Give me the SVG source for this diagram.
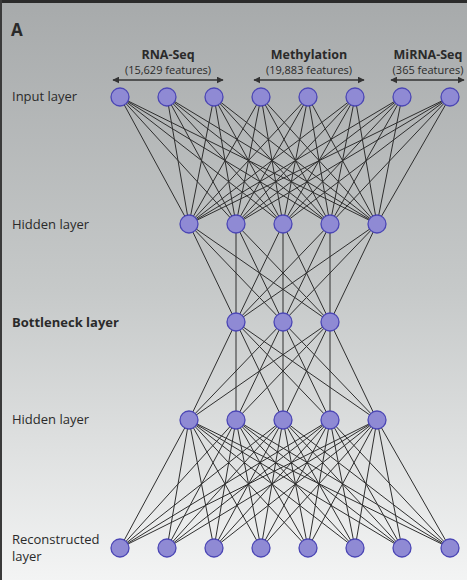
<svg xmlns="http://www.w3.org/2000/svg" width="467" height="580" viewBox="0 0 467 580">
<defs>
<linearGradient id="bg" x1="0" y1="0" x2="0" y2="1">
<stop offset="0" stop-color="#a7aaab"/>
<stop offset="0.5" stop-color="#c6c9c9"/>
<stop offset="1" stop-color="#f3f4f4"/>
</linearGradient>
<marker id="ah" viewBox="0 0 10 10" refX="9" refY="5" markerWidth="7" markerHeight="7" orient="auto-start-reverse" markerUnits="userSpaceOnUse">
<path d="M0,0 L10,5 L0,10 Z" fill="#333"/>
</marker>
</defs>
<style>
.lbl{font-family:"Open Sans","Liberation Sans",sans-serif;font-size:13px;fill:#2a2a2a}
.b{font-weight:bold}
.hd{font-family:"Open Sans","Liberation Sans",sans-serif;font-size:12.5px;font-weight:bold;fill:#2a2a2a;text-anchor:middle}
.sub{font-family:"Open Sans","Liberation Sans",sans-serif;font-size:11px;fill:#2a2a2a;text-anchor:middle}
.n{fill:#8f8ad4;stroke:#4b46b5;stroke-width:1.3}
.e line{stroke:#2e2e2e;stroke-width:1}
.arr{stroke:#333;stroke-width:1.5}
</style>
<rect x="0" y="0" width="467" height="580" fill="url(#bg)"/>
<rect x="0" y="0" width="467" height="3" fill="#2b2b2b"/>
<rect x="0" y="0" width="2" height="580" fill="#3a3a3a"/>
<text x="11" y="36" font-family="Open Sans,Liberation Sans,sans-serif" font-size="17" font-weight="bold" fill="#2a2a2a">A</text>
<text class="lbl" x="12" y="101">Input layer</text>
<text class="lbl" x="12" y="229">Hidden layer</text>
<text class="lbl b" x="12" y="327">Bottleneck layer</text>
<text class="lbl" x="12" y="424">Hidden layer</text>
<text class="lbl" x="12" y="544">Reconstructed</text>
<text class="lbl" x="12" y="561">layer</text>
<text class="hd" x="168" y="59">RNA-Seq</text>
<text class="sub" x="168" y="74">(15,629 features)</text>
<text class="hd" x="309" y="59">Methylation</text>
<text class="sub" x="309" y="74">(19,883 features)</text>
<text class="hd" x="428" y="59">MiRNA-Seq</text>
<text class="sub" x="428" y="74">(365 features)</text>
<line class="arr" x1="113" y1="80" x2="223" y2="80" marker-start="url(#ah)" marker-end="url(#ah)"/>
<line class="arr" x1="254" y1="80" x2="364" y2="80" marker-start="url(#ah)" marker-end="url(#ah)"/>
<line class="arr" x1="391" y1="80" x2="464" y2="80" marker-start="url(#ah)" marker-end="url(#ah)"/>
<g id="connectors" class="e">
<line x1="120" y1="97" x2="189" y2="224"/><line x1="120" y1="97" x2="236" y2="224"/><line x1="120" y1="97" x2="283" y2="224"/><line x1="120" y1="97" x2="330" y2="224"/><line x1="120" y1="97" x2="377" y2="224"/>
<line x1="167" y1="97" x2="189" y2="224"/><line x1="167" y1="97" x2="236" y2="224"/><line x1="167" y1="97" x2="283" y2="224"/><line x1="167" y1="97" x2="330" y2="224"/><line x1="167" y1="97" x2="377" y2="224"/>
<line x1="214" y1="97" x2="189" y2="224"/><line x1="214" y1="97" x2="236" y2="224"/><line x1="214" y1="97" x2="283" y2="224"/><line x1="214" y1="97" x2="330" y2="224"/><line x1="214" y1="97" x2="377" y2="224"/>
<line x1="261" y1="97" x2="189" y2="224"/><line x1="261" y1="97" x2="236" y2="224"/><line x1="261" y1="97" x2="283" y2="224"/><line x1="261" y1="97" x2="330" y2="224"/><line x1="261" y1="97" x2="377" y2="224"/>
<line x1="308" y1="97" x2="189" y2="224"/><line x1="308" y1="97" x2="236" y2="224"/><line x1="308" y1="97" x2="283" y2="224"/><line x1="308" y1="97" x2="330" y2="224"/><line x1="308" y1="97" x2="377" y2="224"/>
<line x1="355" y1="97" x2="189" y2="224"/><line x1="355" y1="97" x2="236" y2="224"/><line x1="355" y1="97" x2="283" y2="224"/><line x1="355" y1="97" x2="330" y2="224"/><line x1="355" y1="97" x2="377" y2="224"/>
<line x1="402" y1="97" x2="189" y2="224"/><line x1="402" y1="97" x2="236" y2="224"/><line x1="402" y1="97" x2="283" y2="224"/><line x1="402" y1="97" x2="330" y2="224"/><line x1="402" y1="97" x2="377" y2="224"/>
<line x1="450" y1="97" x2="189" y2="224"/><line x1="450" y1="97" x2="236" y2="224"/><line x1="450" y1="97" x2="283" y2="224"/><line x1="450" y1="97" x2="330" y2="224"/><line x1="450" y1="97" x2="377" y2="224"/>
<line x1="189" y1="224" x2="236" y2="322"/><line x1="189" y1="224" x2="283" y2="322"/><line x1="189" y1="224" x2="330" y2="322"/>
<line x1="236" y1="224" x2="236" y2="322"/><line x1="236" y1="224" x2="283" y2="322"/><line x1="236" y1="224" x2="330" y2="322"/>
<line x1="283" y1="224" x2="236" y2="322"/><line x1="283" y1="224" x2="283" y2="322"/><line x1="283" y1="224" x2="330" y2="322"/>
<line x1="330" y1="224" x2="236" y2="322"/><line x1="330" y1="224" x2="283" y2="322"/><line x1="330" y1="224" x2="330" y2="322"/>
<line x1="377" y1="224" x2="236" y2="322"/><line x1="377" y1="224" x2="283" y2="322"/><line x1="377" y1="224" x2="330" y2="322"/>
<line x1="189" y1="420" x2="236" y2="322"/><line x1="189" y1="420" x2="283" y2="322"/><line x1="189" y1="420" x2="330" y2="322"/>
<line x1="236" y1="420" x2="236" y2="322"/><line x1="236" y1="420" x2="283" y2="322"/><line x1="236" y1="420" x2="330" y2="322"/>
<line x1="283" y1="420" x2="236" y2="322"/><line x1="283" y1="420" x2="283" y2="322"/><line x1="283" y1="420" x2="330" y2="322"/>
<line x1="330" y1="420" x2="236" y2="322"/><line x1="330" y1="420" x2="283" y2="322"/><line x1="330" y1="420" x2="330" y2="322"/>
<line x1="377" y1="420" x2="236" y2="322"/><line x1="377" y1="420" x2="283" y2="322"/><line x1="377" y1="420" x2="330" y2="322"/>
<line x1="120" y1="548" x2="189" y2="420"/><line x1="120" y1="548" x2="236" y2="420"/><line x1="120" y1="548" x2="283" y2="420"/><line x1="120" y1="548" x2="330" y2="420"/><line x1="120" y1="548" x2="377" y2="420"/>
<line x1="167" y1="548" x2="189" y2="420"/><line x1="167" y1="548" x2="236" y2="420"/><line x1="167" y1="548" x2="283" y2="420"/><line x1="167" y1="548" x2="330" y2="420"/><line x1="167" y1="548" x2="377" y2="420"/>
<line x1="214" y1="548" x2="189" y2="420"/><line x1="214" y1="548" x2="236" y2="420"/><line x1="214" y1="548" x2="283" y2="420"/><line x1="214" y1="548" x2="330" y2="420"/><line x1="214" y1="548" x2="377" y2="420"/>
<line x1="261" y1="548" x2="189" y2="420"/><line x1="261" y1="548" x2="236" y2="420"/><line x1="261" y1="548" x2="283" y2="420"/><line x1="261" y1="548" x2="330" y2="420"/><line x1="261" y1="548" x2="377" y2="420"/>
<line x1="308" y1="548" x2="189" y2="420"/><line x1="308" y1="548" x2="236" y2="420"/><line x1="308" y1="548" x2="283" y2="420"/><line x1="308" y1="548" x2="330" y2="420"/><line x1="308" y1="548" x2="377" y2="420"/>
<line x1="355" y1="548" x2="189" y2="420"/><line x1="355" y1="548" x2="236" y2="420"/><line x1="355" y1="548" x2="283" y2="420"/><line x1="355" y1="548" x2="330" y2="420"/><line x1="355" y1="548" x2="377" y2="420"/>
<line x1="402" y1="548" x2="189" y2="420"/><line x1="402" y1="548" x2="236" y2="420"/><line x1="402" y1="548" x2="283" y2="420"/><line x1="402" y1="548" x2="330" y2="420"/><line x1="402" y1="548" x2="377" y2="420"/>
<line x1="450" y1="548" x2="189" y2="420"/><line x1="450" y1="548" x2="236" y2="420"/><line x1="450" y1="548" x2="283" y2="420"/><line x1="450" y1="548" x2="330" y2="420"/><line x1="450" y1="548" x2="377" y2="420"/>
</g>
<g id="input-layer">
<circle id="in1" class="n" cx="120" cy="97" r="9"/><circle id="in2" class="n" cx="167" cy="97" r="9"/><circle id="in3" class="n" cx="214" cy="97" r="9"/><circle id="in4" class="n" cx="261" cy="97" r="9"/><circle id="in5" class="n" cx="308" cy="97" r="9"/><circle id="in6" class="n" cx="355" cy="97" r="9"/><circle id="in7" class="n" cx="402" cy="97" r="9"/><circle id="in8" class="n" cx="450" cy="97" r="9"/>
</g>
<g id="hidden-layer-1">
<circle id="h1a" class="n" cx="189" cy="224" r="9"/><circle id="h1b" class="n" cx="236" cy="224" r="9"/><circle id="h1c" class="n" cx="283" cy="224" r="9"/><circle id="h1d" class="n" cx="330" cy="224" r="9"/><circle id="h1e" class="n" cx="377" cy="224" r="9"/>
</g>
<g id="bottleneck-layer">
<circle id="b1" class="n" cx="236" cy="322" r="9"/><circle id="b2" class="n" cx="283" cy="322" r="9"/><circle id="b3" class="n" cx="330" cy="322" r="9"/>
</g>
<g id="hidden-layer-2">
<circle id="h2a" class="n" cx="189" cy="420" r="9"/><circle id="h2b" class="n" cx="236" cy="420" r="9"/><circle id="h2c" class="n" cx="283" cy="420" r="9"/><circle id="h2d" class="n" cx="330" cy="420" r="9"/><circle id="h2e" class="n" cx="377" cy="420" r="9"/>
</g>
<g id="reconstructed-layer">
<circle id="r1" class="n" cx="120" cy="548" r="9"/><circle id="r2" class="n" cx="167" cy="548" r="9"/><circle id="r3" class="n" cx="214" cy="548" r="9"/><circle id="r4" class="n" cx="261" cy="548" r="9"/><circle id="r5" class="n" cx="308" cy="548" r="9"/><circle id="r6" class="n" cx="355" cy="548" r="9"/><circle id="r7" class="n" cx="402" cy="548" r="9"/><circle id="r8" class="n" cx="450" cy="548" r="9"/>
</g>
</svg>
